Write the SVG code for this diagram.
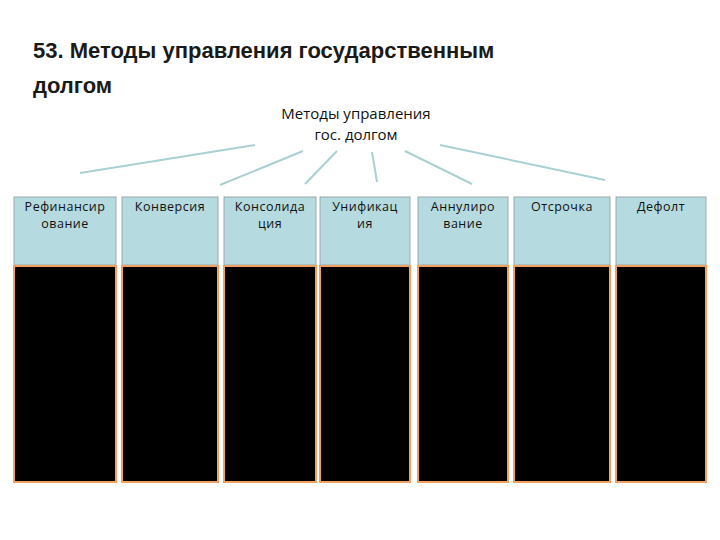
<svg xmlns="http://www.w3.org/2000/svg" width="720" height="540" viewBox="0 0 720 540">
<style>
.t{font-family:"Liberation Sans",Arial,sans-serif;font-weight:bold;font-size:22px;fill:#1a1a1a}
.s{font-family:"Open Sans","DejaVu Sans",sans-serif;font-size:15px;fill:#111;text-anchor:middle}
.l{font-family:"Open Sans","DejaVu Sans",sans-serif;font-size:12.5px;fill:#111;text-anchor:middle;letter-spacing:0.5px}
.h{fill:#b5dbe0;stroke:#9aa;stroke-width:1}
.b{fill:#000;stroke:#f0a060;stroke-width:2}
.c{stroke:#a9d0d2;stroke-width:2;fill:none}
</style>
<rect width="720" height="540" fill="#fff"/>
<text class="t" x="33" y="58">53. Методы управления государственным</text>
<text class="t" x="33" y="93">долгом</text>
<g id="root"><text class="s" x="356" y="119">Методы управления</text><text class="s" x="356" y="140">гос. долгом</text></g>
<g id="connectors">
<line class="c" x1="255" y1="145" x2="80" y2="173"/>
<line class="c" x1="303" y1="151" x2="220" y2="185"/>
<line class="c" x1="337" y1="151" x2="305" y2="184"/>
<line class="c" x1="372" y1="152" x2="377" y2="182"/>
<line class="c" x1="405" y1="151" x2="472" y2="184"/>
<line class="c" x1="440" y1="145" x2="605" y2="180"/>
</g>
<g id="n1"><rect class="h" x="14" y="197" width="102" height="68"/><rect class="b" x="14" y="266" width="102" height="216"/><text class="l" x="65" y="211">Рефинансир</text><text class="l" x="65" y="228">ование</text></g>
<g id="n2"><rect class="h" x="122" y="197" width="96" height="68"/><rect class="b" x="122" y="266" width="96" height="216"/><text class="l" x="170" y="211">Конверсия</text></g>
<g id="n3"><rect class="h" x="224" y="197" width="92" height="68"/><rect class="b" x="224" y="266" width="92" height="216"/><text class="l" x="270" y="211">Консолида</text><text class="l" x="270" y="228">ция</text></g>
<g id="n4"><rect class="h" x="320" y="197" width="90" height="68"/><rect class="b" x="320" y="266" width="90" height="216"/><text class="l" x="365" y="211">Унификац</text><text class="l" x="365" y="228">ия</text></g>
<g id="n5"><rect class="h" x="418" y="197" width="90" height="68"/><rect class="b" x="418" y="266" width="90" height="216"/><text class="l" x="463" y="211">Аннулиро</text><text class="l" x="463" y="228">вание</text></g>
<g id="n6"><rect class="h" x="514" y="197" width="96" height="68"/><rect class="b" x="514" y="266" width="96" height="216"/><text class="l" x="562" y="211">Отсрочка</text></g>
<g id="n7"><rect class="h" x="616" y="197" width="90" height="68"/><rect class="b" x="616" y="266" width="90" height="216"/><text class="l" x="661" y="211">Дефолт</text></g>
</svg>
